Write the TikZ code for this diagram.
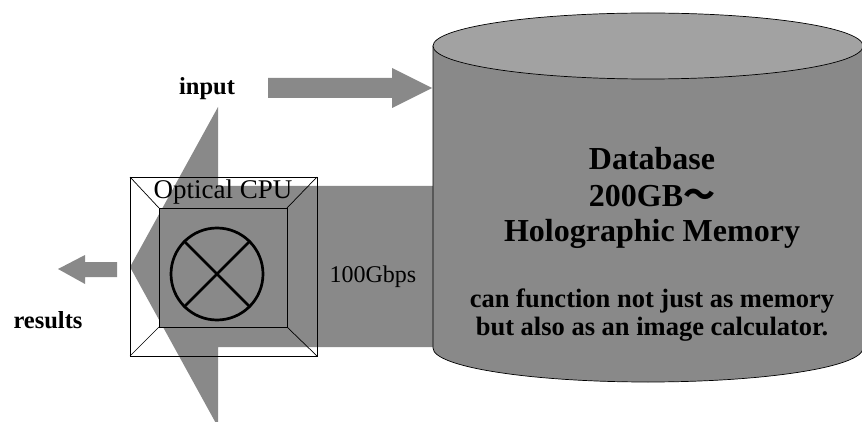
\documentclass[tikz,border=0pt]{standalone}
\usepackage{fontspec}
\setmainfont{Liberation Serif}
\newfontfamily\cjk{Noto Sans CJK SC}
\definecolor{arrowgray}{HTML}{898989}
\definecolor{topgray}{HTML}{A2A2A2}
\tikzset{
  blockarrow/.style={fill=arrowgray, draw=none},
  thinline/.style={draw=black, line width=0.7pt},
  boldlabel/.style={inner sep=0pt, anchor=base, font=\bfseries\fontsize{24.5}{28}\selectfont},
  dbtitle/.style={inner sep=0pt, anchor=base, font=\bfseries\fontsize{32}{37}\selectfont},
  dbnote/.style={inner sep=0pt, anchor=base, font=\bfseries\fontsize{26.5}{31}\selectfont},
}
\begin{document}
\begin{tikzpicture}[x=1pt, y=-1pt]
\useasboundingbox (0,0) rectangle (862,422);
% outer CPU box (white)
\coordinate (o1) at (130,177);
\coordinate (o2) at (317,177);
\coordinate (o3) at (317,356);
\coordinate (o4) at (130,356);
\coordinate (i1) at (159,208);
\coordinate (i2) at (287,208);
\coordinate (i3) at (287,327);
\coordinate (i4) at (159,327);
\fill[white] (o1) rectangle (o3);
% big arrow from database to results
\path[blockarrow] (433,186) -- (218,186) -- (218,107) -- (130,267) -- (218,427) -- (218,347) -- (433,347) -- cycle;
% inner square
\path[thinline, fill=arrowgray] (i1) rectangle (i3);
% outer frame and diagonals
\draw[thinline] (o1) rectangle (o3);
\draw[thinline] (o1) -- (i1) (o2) -- (i2) (o3) -- (i3) (o4) -- (i4);
% circle with cross
\node[circle, draw=black, line width=2.7pt, minimum size=92pt, inner sep=0pt] (mult) at (217,274) {};
\draw[line width=2.7pt] (mult.north west) -- (mult.south east) (mult.north east) -- (mult.south west);
\node[inner sep=0pt, anchor=base, font=\fontsize{27}{32}\selectfont] (cpu) at (223,199) {Optical CPU};
\node[inner sep=0pt, anchor=base, font=\fontsize{24}{28}\selectfont] (rate) at (373,282) {100Gbps};
% input arrow
\path[blockarrow] (268,78) -- (392,78) -- (392,68) -- (432,88) -- (392,108) -- (392,98) -- (268,98) -- cycle;
% results arrow
\path[blockarrow] (117,262) -- (85,262) -- (85,255) -- (58,269) -- (85,284) -- (85,277) -- (117,277) -- cycle;
% database cylinder
\path[thinline, fill=arrowgray] (433,46) -- (433,348) arc[start angle=180, end angle=0, x radius=215, y radius=34] -- (863,46) -- cycle;
\path[thinline, fill=topgray] (648,46) ellipse[x radius=215, y radius=33];
\node[boldlabel] (input) at (207,95) {input};
\node[boldlabel] (results) at (48,328) {results};
\node[dbtitle] (db1) at (652,170) {Database};
\node[dbtitle] (db2) at (652,207) {200GB{\cjk ～}};
\node[dbtitle] (db3) at (652,242) {Holographic Memory};
\node[dbnote] (db4) at (652,307) {can function not just as memory};
\node[dbnote] (db5) at (652,335) {but also as an image calculator.};
\end{tikzpicture}
\end{document}
